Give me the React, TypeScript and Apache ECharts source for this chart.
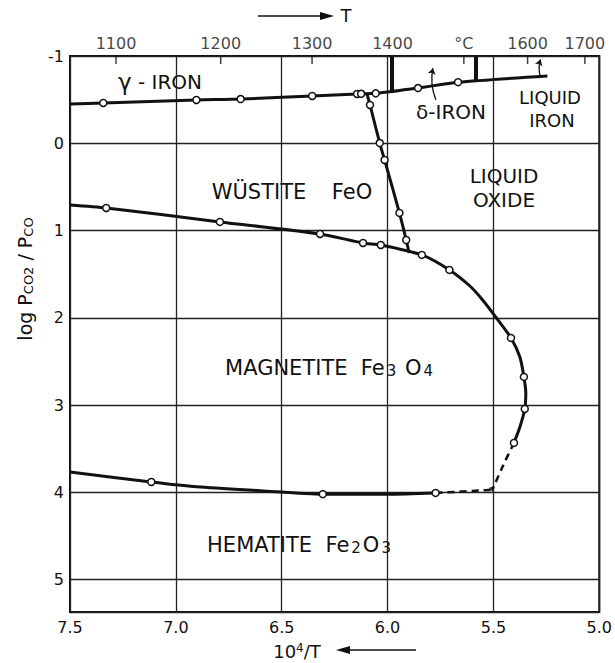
import React, { useEffect, useRef } from 'react';
import * as echarts from 'echarts';

// Axis extents: bottom axis is 10^4/T (K), left axis is log(pCO2/pCO)
const X_MIN = 5.0;
const X_MAX = 7.5;
const Y_MIN = -1;
const Y_MAX = 5.37;

// Temperature scale along the top edge (°C)
const tempTicksC = [1100, 1200, 1300, 1400, 1500, 1600, 1700];
const tempTickLabels = ['1100', '1200', '1300', '1400', '°C', '1600', '1700'];

// Phase boundaries: [10^4/T, log pCO2/pCO, measured point (1) or curve point (0)]
const ironWustite = [
  [7.5, -0.45, 0], [7.343, -0.462, 1], [6.903, -0.496, 1], [6.694, -0.507, 1],
  [6.356, -0.542, 1], [6.144, -0.565, 1], [6.125, -0.567, 1], [6.056, -0.572, 1],
  [5.856, -0.633, 1], [5.667, -0.7, 1], [5.245, -0.77, 0],
];
const wustiteMelting = [
  [6.097, -0.565, 0], [6.083, -0.439, 1], [6.037, -0.003, 1], [6.014, 0.191, 1],
  [5.944, 0.798, 1], [5.912, 1.108, 1], [5.898, 1.257, 0],
];
const wustiteMagnetite = [
  [7.5, 0.707, 0], [7.329, 0.741, 1], [6.792, 0.901, 1], [6.319, 1.039, 1],
  [6.116, 1.142, 1], [6.032, 1.165, 1], [5.838, 1.279, 1], [5.708, 1.451, 1],
  [5.611, 1.635, 0], [5.551, 1.795, 0], [5.486, 2.0, 0], [5.417, 2.23, 1],
  [5.375, 2.448, 0], [5.356, 2.677, 1], [5.347, 2.86, 0], [5.352, 3.044, 1],
  [5.375, 3.25, 0], [5.403, 3.433, 1],
];
const wustiteMagnetiteExtrapolated = [[5.403, 3.433], [5.454, 3.69], [5.505, 3.97]];
const magnetiteHematite = [
  [7.5, 3.765, 0], [7.116, 3.88, 1], [6.9, 3.935, 0], [6.6, 3.98, 0],
  [6.306, 4.02, 1], [6.0, 4.02, 0], [5.773, 4.006, 1],
];
const magnetiteHematiteExtrapolated = [[5.773, 4.006], [5.505, 3.97]];
const triplePoint = [[5.505, 3.97]];

// Iron transition bars (from the top edge down to the iron line)
const ironTransitions = [[5.981, -0.576], [5.583, -0.71]];
// Small arrows crossing the iron line
const transitionArrows = [
  [[5.772, -0.5], [5.786, -0.86]],
  [[5.278, -0.76], [5.278, -0.96]],
];

const FONT = 'DejaVu Sans';
const INK = '#111';

const toLineData = (pts: number[][]) =>
  pts.map((p) => ({ value: [p[0], p[1]], symbol: p[2] ? 'circle' : 'none' }));

const solidBoundary = (pts: number[][]) => ({
  type: 'line',
  data: toLineData(pts),
  symbolSize: 7,
  showAllSymbol: true,
  smooth: 0.25,
  lineStyle: { color: INK, width: 3 },
  itemStyle: { color: '#fff', borderColor: INK, borderWidth: 1.5 },
  z: 4,
  silent: true,
});

const dashedBoundary = (pts: number[][]) => ({
  type: 'line',
  data: pts.map((p) => [p[0], p[1]]),
  symbol: 'none',
  smooth: 0.3,
  lineStyle: { color: INK, width: 2.5, type: [7, 5] },
  z: 3,
  silent: true,
});

export default function App() {
  const ref = useRef<HTMLDivElement>(null);

  useEffect(() => {
    const chart = echarts.init(ref.current!, undefined, { renderer: 'svg' });

    const text = (s: string, x: number, y: number, size = 20) => ({
      type: 'text',
      x,
      y,
      style: {
        text: s,
        fontSize: size,
        fontFamily: FONT,
        fill: INK,
        align: 'center',
        verticalAlign: 'middle',
      },
    });

    const formulaText = (s: string, x: number, y: number) => ({
      type: 'text',
      x,
      y,
      style: {
        text: s,
        fill: INK,
        align: 'center',
        verticalAlign: 'middle',
        rich: {
          a: { fontSize: 21, fontFamily: FONT, fill: INK, verticalAlign: 'bottom' },
          s: { fontSize: 15, fontFamily: FONT, fill: INK, verticalAlign: 'bottom', padding: [0, 2, 0, 2] },
        },
      },
    });

    const option = {
      animation: false,
      backgroundColor: '#fff',
      grid: {
        left: 70,
        right: 5,
        top: 56,
        bottom: 51,
        show: true,
        borderColor: INK,
        borderWidth: 2,
      },
      xAxis: {
        type: 'value',
        min: X_MIN,
        max: X_MAX,
        interval: 0.5,
        inverse: true,
        axisLine: { show: false },
        axisTick: { show: false },
        splitLine: { show: true, lineStyle: { color: '#222', width: 1.3 } },
        axisLabel: {
          formatter: (v: number) => v.toFixed(1),
          fontSize: 16,
          fontFamily: FONT,
          color: INK,
          margin: 7,
        },
      },
      yAxis: {
        type: 'value',
        min: Y_MIN,
        max: Y_MAX,
        interval: 1,
        inverse: true,
        axisLine: { show: false },
        axisTick: { show: false },
        splitLine: { show: true, lineStyle: { color: '#222', width: 1.3 } },
        axisLabel: {
          formatter: (v: number) =>
            Math.abs(v - Math.round(v)) < 1e-6 ? String(Math.round(v)) : '',
          fontSize: 16,
          fontFamily: FONT,
          color: INK,
          margin: 6,
        },
      },
      series: [
        {
          // temperature ticks and labels along the top edge
          type: 'scatter',
          data: tempTicksC.map((t) => [1e4 / (t + 273.15), Y_MIN]),
          symbol: 'rect',
          symbolSize: [1.5, 8],
          symbolOffset: [0, 4],
          itemStyle: { color: INK },
          clip: false,
          silent: true,
          label: {
            show: true,
            position: 'top',
            distance: 5,
            formatter: (p: any) => tempTickLabels[p.dataIndex],
            fontSize: 16,
            fontFamily: FONT,
            color: INK,
          },
        },
        solidBoundary(ironWustite),
        solidBoundary(wustiteMelting),
        solidBoundary(wustiteMagnetite),
        dashedBoundary(wustiteMagnetiteExtrapolated),
        solidBoundary(magnetiteHematite),
        dashedBoundary(magnetiteHematiteExtrapolated),
        {
          type: 'scatter',
          data: triplePoint,
          symbol: 'triangle',
          symbolSize: 6,
          symbolRotate: 200,
          itemStyle: { color: INK },
          silent: true,
          z: 5,
        },
        {
          type: 'lines',
          coordinateSystem: 'cartesian2d',
          data: ironTransitions.map(([x, y]) => ({ coords: [[x, Y_MIN], [x, y]] })),
          symbol: 'none',
          lineStyle: { color: INK, width: 4, opacity: 1 },
          silent: true,
          z: 4,
        },
        {
          type: 'lines',
          coordinateSystem: 'cartesian2d',
          data: transitionArrows.map((c) => ({ coords: c })),
          symbol: ['none', 'arrow'],
          symbolSize: 6,
          lineStyle: { color: INK, width: 1.3, curveness: 0.15, opacity: 1 },
          silent: true,
          z: 4,
        },
      ],
      graphic: [
        // phase field labels
        {
          type: 'text',
          x: 160,
          y: 82,
          style: {
            text: '{g|γ}{a| - IRON}',
            align: 'center',
            verticalAlign: 'middle',
            rich: {
              g: { fontSize: 23, fontFamily: FONT, fill: INK },
              a: { fontSize: 20, fontFamily: FONT, fill: INK },
            },
          },
        },
        text('δ-IRON', 451, 112),
        text('LIQUID', 550, 97, 18),
        text('IRON', 552, 120, 18),
        text('LIQUID', 504, 176),
        text('OXIDE', 504, 200),
        text('WÜSTITE', 259, 192, 21),
        text('FeO', 352, 192, 21),
        formulaText('{a|MAGNETITE  Fe}{s|3}{a| O}{s|4}', 330, 368),
        formulaText('{a|HEMATITE  Fe}{s|2}{a|O}{s|3}', 300, 545),
        // left axis title
        {
          type: 'text',
          x: 25,
          y: 279,
          rotation: Math.PI / 2,
          style: {
            text: '{a|log P}{s|CO2}{a| / P}{s|CO}',
            align: 'center',
            verticalAlign: 'middle',
            rich: {
              a: { fontSize: 19, fontFamily: FONT, fill: INK, verticalAlign: 'bottom' },
              s: { fontSize: 13, fontFamily: FONT, fill: INK, verticalAlign: 'bottom' },
            },
          },
        },
        // top axis title with arrow
        { type: 'line', shape: { x1: 258, y1: 16, x2: 322, y2: 16 }, style: { stroke: INK, lineWidth: 1.5 } },
        { type: 'polygon', shape: { points: [[334, 16], [320, 12], [320, 20]] }, style: { fill: INK } },
        text('T', 346, 15, 18),
        // bottom axis title with arrow
        {
          type: 'text',
          x: 297,
          y: 651,
          style: {
            text: '{a|10}{p|4}{a|/T}',
            align: 'center',
            verticalAlign: 'middle',
            rich: {
              a: { fontSize: 18, fontFamily: FONT, fill: INK, verticalAlign: 'bottom' },
              p: { fontSize: 12, fontFamily: FONT, fill: INK, verticalAlign: 'top' },
            },
          },
        },
        { type: 'line', shape: { x1: 348, y1: 650, x2: 416, y2: 650 }, style: { stroke: INK, lineWidth: 1.5 } },
        { type: 'polygon', shape: { points: [[336, 650], [350, 646], [350, 654]] }, style: { fill: INK } },
      ],
    };

    chart.setOption(option as any);
    return () => chart.dispose();
  }, []);

  return (
    <div
      ref={ref}
      style={{ position: 'absolute', left: 0, top: 0, width: 615, height: 663 }}
    />
  );
}
